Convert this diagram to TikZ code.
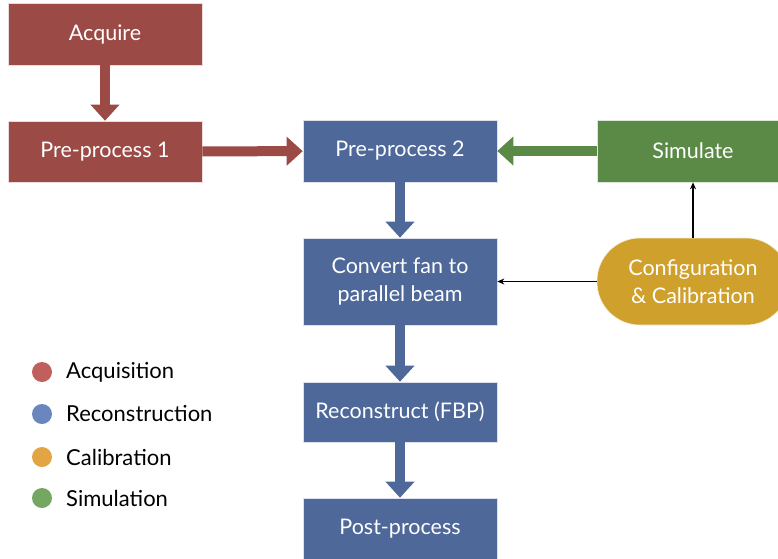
\documentclass[tikz,border=0pt]{standalone}
\usepackage{fontspec}
\setmainfont{Lato}
\usetikzlibrary{arrows.meta,shadows}
\definecolor{acqc}{HTML}{9C4A45}
\definecolor{recc}{HTML}{4E689A}
\definecolor{simc}{HTML}{5B8A47}
\definecolor{calc}{HTML}{CFA02C}
\definecolor{acql}{HTML}{C0605D}
\definecolor{recl}{HTML}{6A86BF}
\definecolor{call}{HTML}{E3A444}
\definecolor{siml}{HTML}{74A762}
\begin{document}
\begin{tikzpicture}[x=1pt,y=-1pt,
  box/.style={draw=white!80!#1, line width=0.6pt, fill=#1, text=white, minimum width=194pt, inner sep=0pt, align=center,
     font=\fontsize{21.5}{28}\selectfont},
  fat/.style={line width=10pt, color=#1, -{Triangle[width=28pt,length=16pt]}},
  thin/.style={line width=1.4pt, -{Stealth[length=7pt,width=6pt]}},
  dot/.style={circle, fill=#1, minimum size=20pt, inner sep=0pt},
  leg/.style={anchor=west, inner sep=0pt, font=\fontsize{22}{24}\selectfont}
]
\useasboundingbox (0,0) rectangle (778,558);
\node[box=acqc, minimum height=62pt] (acq) at (105,34) {Acquire};
\node[box=acqc, minimum height=61pt] (pp1) at (105,151.5) {Pre-process 1};
\node[box=recc, minimum height=62pt] (pp2) at (400,151) {Pre-process 2};
\node[box=recc, minimum height=87pt] (conv) at (400,281.5) {Convert fan to\\parallel beam};
\node[box=recc, minimum height=60pt] (rec) at (400,412) {Reconstruct (FBP)};
\node[box=recc, minimum height=62pt] (post) at (400,529) {Post-process};
\node[box=simc, minimum height=62pt, minimum width=192pt] (sim) at (693,151) {Simulate};
\node[box=calc, minimum height=87pt, minimum width=192pt, rounded corners=43pt] (cfg) at (693,281.5) {Configuration\\\& Calibration};

\draw[fat=acqc] (acq) -- (pp1);
\draw[fat=acqc] (pp1) -- (pp2);
\draw[fat=simc] (sim) -- (pp2);
\draw[fat=recc] (pp2) -- (conv);
\draw[fat=recc] (conv) -- (rec);
\draw[fat=recc] (rec) -- (post);
\draw[thin] (cfg) -- (conv);
\draw[thin] (cfg.north -| sim.south) -- (sim.south);

\node[dot=acql] (d1) at (42,372) {};
\node[dot=recl] (d2) at (42,414) {};
\node[dot=call] (d3) at (42,457) {};
\node[dot=siml] (d4) at (42,498) {};
\node[leg] (l1) at (66,372) {Acquisition};
\node[leg] (l2) at (66,414) {Reconstruction};
\node[leg] (l3) at (66,457) {Calibration};
\node[leg] (l4) at (66,498) {Simulation};
\end{tikzpicture}
\end{document}
